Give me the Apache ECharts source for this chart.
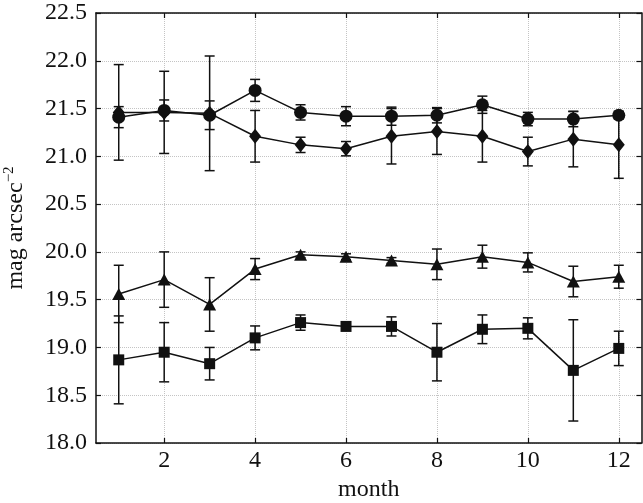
<!DOCTYPE html>
<html>
<head>
<meta charset="utf-8">
<script src="https://cdn.jsdelivr.net/npm/echarts@6/dist/echarts.min.js"></script>
<style>html,body{margin:0;padding:0;background:#fff;}#c{width:643px;height:503px;}</style>
</head>
<body>
<div id="c"></div>
<script>
var months = [1,2,3,4,5,6,7,8,9,10,11,12];
var xTicks = [2,4,6,8,10,12];
var circleVals = [21.41,21.48,21.43,21.69,21.46,21.42,21.42,21.43,21.54,21.39,21.39,21.43];
var circleErr  = [0.11,0.11,0.15,0.115,0.08,0.10,0.095,0.08,0.09,0.07,0.08,0.04];
var diamondVals = [21.46,21.46,21.45,21.21,21.12,21.08,21.21,21.26,21.21,21.05,21.18,21.12];
var diamondErr  = [0.50,0.43,0.60,0.27,0.08,0.075,0.29,0.24,0.27,0.15,0.29,0.35];
var triangleVals = [19.56,19.71,19.45,19.82,19.97,19.95,19.91,19.87,19.95,19.89,19.69,19.74];
var triangleErr  = [0.30,0.29,0.28,0.11,0.03,0.03,0.03,0.16,0.12,0.10,0.16,0.12];
var squareVals = [18.87,18.95,18.83,19.10,19.26,19.22,19.22,18.95,19.19,19.20,18.76,18.99];
var squareErr  = [0.46,0.31,0.17,0.125,0.08,0.03,0.10,0.30,0.15,0.11,0.53,0.18];

var FONT = '"Liberation Serif", "Times New Roman", Times, serif';
var INK = '#111';
var FS = 24;

function pts(vals){ return months.map(function(m,i){ return [m, vals[i]]; }); }
function errs(vals, e){ return months.map(function(m,i){ return [m, vals[i]-e[i], vals[i]+e[i]]; }); }

function errRender(params, api){
  var lo = api.coord([api.value(0), api.value(1)]);
  var hi = api.coord([api.value(0), api.value(2)]);
  var w = 5;
  var st = {stroke: INK, lineWidth: 1.5};
  return {type:'group', children:[
    {type:'line', shape:{x1:lo[0],y1:lo[1],x2:hi[0],y2:hi[1]}, style:st},
    {type:'line', shape:{x1:lo[0]-w,y1:lo[1],x2:lo[0]+w,y2:lo[1]}, style:st},
    {type:'line', shape:{x1:hi[0]-w,y1:hi[1],x2:hi[0]+w,y2:hi[1]}, style:st}
  ]};
}

function lineSeries(vals, symbol, size){
  return {type:'line', data: pts(vals), symbol: symbol, symbolSize: size,
    itemStyle:{color: INK}, lineStyle:{color: INK, width: 1.5}, z: 3, animation:false};
}
function errSeries(vals, e){
  return {type:'custom', data: errs(vals, e), renderItem: errRender, z: 2, animation:false,
    encode:{x:0, y:[1,2]}};
}

var chart = echarts.init(document.getElementById('c'));
chart.setOption({
  backgroundColor:'#fff',
  animation:false,
  grid:{left:96, top:13, right:1.5, bottom:60, outerBoundsMode:'none', containLabel:false},
  xAxis:[{
    type:'value', min:0.5, max:12.5,
    name:'month', nameLocation:'middle', nameGap:35,
    nameTextStyle:{fontFamily:FONT, fontSize:FS, color:INK},
    axisLine:{show:true, onZero:false, lineStyle:{color:INK, width:1.5}},
    axisTick:{show:true, inside:true, length:5, customValues: xTicks, lineStyle:{color:INK, width:1.2}},
    axisLabel:{customValues: xTicks, fontFamily:FONT, fontSize:FS, color:INK, margin:6},
    splitLine:{show:true, lineStyle:{color:'#c4c4c4', type:'dotted', width:1}}
  },{
    type:'value', min:0.5, max:12.5, position:'top',
    axisLine:{show:true, onZero:false, lineStyle:{color:INK, width:1.5}},
    axisTick:{show:true, inside:true, length:5, customValues: xTicks, lineStyle:{color:INK, width:1.2}},
    axisLabel:{show:false},
    splitLine:{show:false}
  }],
  yAxis:[{
    type:'value', min:18, max:22.5, interval:0.5,
    name:'mag arcsec{sup|\u22122}', nameLocation:'middle', nameGap:67,
    nameTextStyle:{fontFamily:FONT, fontSize:FS, color:INK,
      rich:{sup:{fontFamily:FONT, fontSize:15, color:INK, verticalAlign:'top', padding:[0,0,12,0]}}},
    axisLine:{show:true, onZero:false, lineStyle:{color:INK, width:1.5}},
    axisTick:{show:true, inside:true, length:5, lineStyle:{color:INK, width:1.2}},
    axisLabel:{fontFamily:FONT, fontSize:FS, color:INK, margin:9,
      formatter:function(v){ return v.toFixed(1); }},
    splitLine:{show:true, lineStyle:{color:'#c4c4c4', type:'dotted', width:1}}
  },{
    type:'value', min:18, max:22.5, interval:0.5, position:'right',
    axisLine:{show:true, onZero:false, lineStyle:{color:INK, width:1.5}},
    axisTick:{show:true, inside:true, length:5, lineStyle:{color:INK, width:1.2}},
    axisLabel:{show:false},
    splitLine:{show:false}
  }],
  series:[
    errSeries(circleVals, circleErr),
    errSeries(diamondVals, diamondErr),
    errSeries(triangleVals, triangleErr),
    errSeries(squareVals, squareErr),
    lineSeries(diamondVals, 'diamond', [12,15]),
    lineSeries(circleVals, 'circle', 13),
    lineSeries(triangleVals, 'triangle', [13,12]),
    lineSeries(squareVals, 'rect', 11)
  ]
});
</script>
</body>
</html>
